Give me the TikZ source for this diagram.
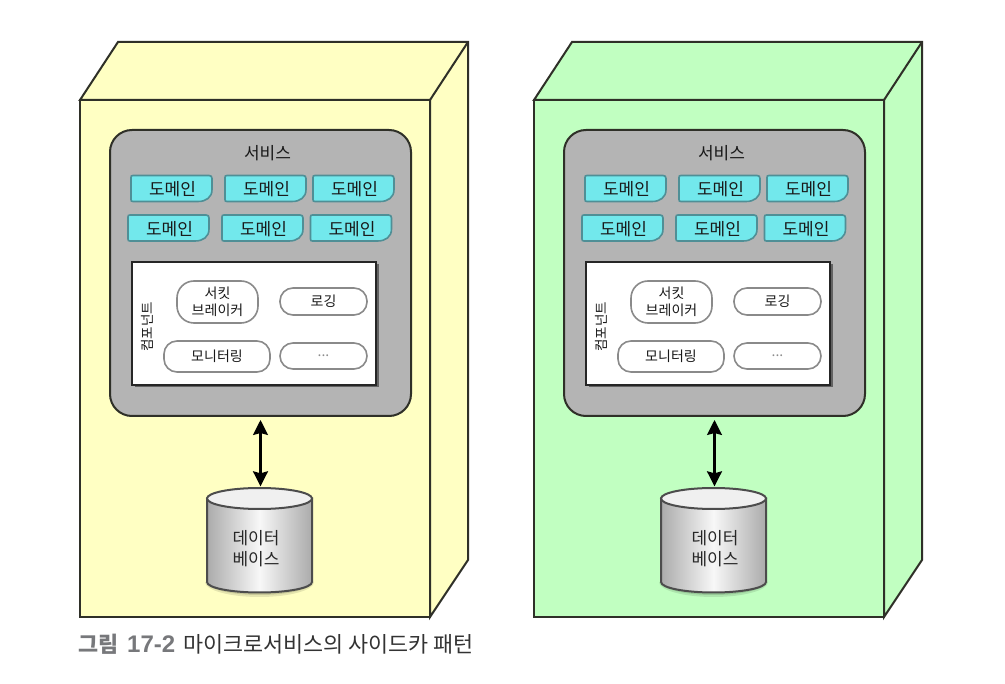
\documentclass[tikz,border=0pt]{standalone}
\usepackage{fontspec}
\setmainfont{Noto Sans CJK KR}
\newfontfamily\capnum{Liberation Sans}
\usetikzlibrary{arrows.meta,calc,shadows}
\definecolor{yel}{HTML}{FFFFC3}
\definecolor{grn}{HTML}{C1FFC1}
\definecolor{svcgray}{HTML}{B4B4B4}
\definecolor{dom}{HTML}{72E8EC}
\definecolor{domline}{HTML}{4F8F96}
\definecolor{frameline}{HTML}{2F3028}
\definecolor{pillline}{HTML}{8A8A8A}
\definecolor{captext}{HTML}{333333}
\definecolor{capgray}{HTML}{77787B}
\tikzset{
  framebox/.style={draw=frameline,line width=2pt,line join=miter},
  svcbox/.style={draw=frameline,line width=2pt,fill=svcgray,rounded corners=22pt,inner sep=0pt},
  compbox/.style={draw=black!85,line width=2pt,fill=white,inner sep=0pt,
    drop shadow={shadow xshift=2.5pt,shadow yshift=-2.5pt,opacity=.45,fill=black}},
  domedge/.style={draw=domline,line width=1.6pt,fill=dom},
  lab/.style={font=\fontsize{17}{20}\selectfont,text=black!90,inner sep=0pt},
  smalllab/.style={font=\fontsize{13.5}{18}\selectfont,text=black!90,inner sep=0pt,align=center},
  pill/.style={draw=pillline,line width=1.6pt,fill=white,rounded corners=13pt,inner sep=0pt,
    font=\fontsize{14}{18}\selectfont,text=black!90,align=center},
  linkarrow/.style={line width=2.2pt,draw=black,{Stealth[length=15pt,width=15pt,inset=2pt]}-{Stealth[length=15pt,width=15pt,inset=2pt]}},
  dbtext/.style={font=\fontsize{17}{21}\selectfont,text=black!85,align=center,inner sep=0pt},
}
\newcommand{\domainbox}[4]{% name, left, top, text
  \draw[domedge] (#2,#3+2) .. controls (#2,#3+0.5) and (#2+0.5,#3) .. (#2+2,#3)
     -- (#2+78,#3) .. controls (#2+80,#3) and (#2+81,#3+1) .. (#2+81,#3+3)
     -- (#2+81,#3+14) .. controls (#2+81,#3+22) and (#2+75,#3+26) .. (#2+67,#3+26)
     -- (#2+2,#3+26) .. controls (#2+0.5,#3+26) and (#2,#3+25.5) .. (#2,#3+24) -- cycle;
  \node[lab] (#1) at (#2+41.5,#3+14) {#4};
}
\newcommand{\pillbox}[6]{% name, x0,y0,x1,y1,text
  \node[pill,minimum width=#4-#2,minimum height=#5-#3] (#1) at ({(#2+#4)/2},{(#3+#5)/2}) {#6};
}
\newcommand{\sidecar}[4]{% prefix, xshift, fill, database text x
\begin{scope}[shift={(#2,0)}]
  % outer block
  \draw[framebox,fill=#3] (80,100) -- (118,42) -- (468,42) -- (468,560) -- (430,617) -- (430,100) -- cycle;
  \draw[framebox,fill=#3] (80,100) rectangle (430,617);
  \draw[framebox] (430,100) -- (468,42);
  % service
  \node[svcbox,minimum width=301pt,minimum height=286pt] (#1svc) at (260.5,273) {};
  \node[lab] (#1svct) at (267.5,153) {서비스};
  \domainbox{#1d1}{131}{175.5}{도메인}
  \domainbox{#1d2}{225}{175.5}{도메인}
  \domainbox{#1d3}{313}{175.5}{도메인}
  \domainbox{#1d4}{128}{215}{도메인}
  \domainbox{#1d5}{222}{215}{도메인}
  \domainbox{#1d6}{310.5}{215}{도메인}
  % components
  \node[compbox,minimum width=244pt,minimum height=123pt] (#1comp) at (254,323.5) {};
  \node[smalllab,rotate=90] (#1compt) at (147,327) {컴포넌트};
  \node[pill,rounded corners=17pt,minimum width=81pt,minimum height=42pt,font=\fontsize{14}{17}\selectfont] (#1p1) at (217.5,302) {서킷\\브레이커};
  \pillbox{#1p2}{280}{288}{367}{315}{로깅}
  \pillbox{#1p3}{164}{341}{270}{372}{모니터링}
  \pillbox{#1p4}{280}{343}{367}{369}{\textcolor{black!45}{...}}
  % database
  \fill[black,opacity=.10] (205,582) -- (314,582) arc[start angle=0,end angle=180,x radius=54.5,y radius=15] -- cycle;
  \fill[black,opacity=.12] (207,582) -- (312,582) arc[start angle=0,end angle=180,x radius=52.5,y radius=13] -- cycle;
  \path[draw=black!70,line width=2pt,left color=black!33,right color=black!33,middle color=white!97!black]
    (207,498.5) -- (207,582) arc[start angle=180,end angle=0,x radius=52.5,y radius=10.5] -- (312,498.5) -- cycle;
  \draw[draw=black!70,line width=2pt,fill=black!6] (259.5,498.5) ellipse[x radius=52.5,y radius=10.5];
  \node[dbtext] (#1dbt) at (#4,548.5) {데이터\\베이스};
  \node[minimum width=105pt,minimum height=104pt,inner sep=0pt] (#1db) at (259.5,540.5) {};
  \draw[linkarrow,shorten <=3pt,shorten >=2pt] (#1svc.south) -- (#1svc.south |- #1db.north);
\end{scope}
}
\begin{document}
\begin{tikzpicture}[x=1pt,y=-1pt]
  \useasboundingbox (0,0) rectangle (1005,684);
  \fill[white] (0,0) rectangle (1005,684);
  \sidecar{a}{0}{yel}{256}
  \sidecar{b}{454}{grn}{261}
  \node[anchor=base west,inner sep=0pt,font=\fontsize{21.8}{24}\selectfont,text=captext] (cap) at (78,652.5)
    {\textcolor{capgray}{\textbf{그림}\hspace{4pt} {\capnum\bfseries\fontsize{24}{24}\selectfont 17-2}}\hspace{3pt} 마이크로서비스의 사이드카 패턴};
\end{tikzpicture}
\end{document}
